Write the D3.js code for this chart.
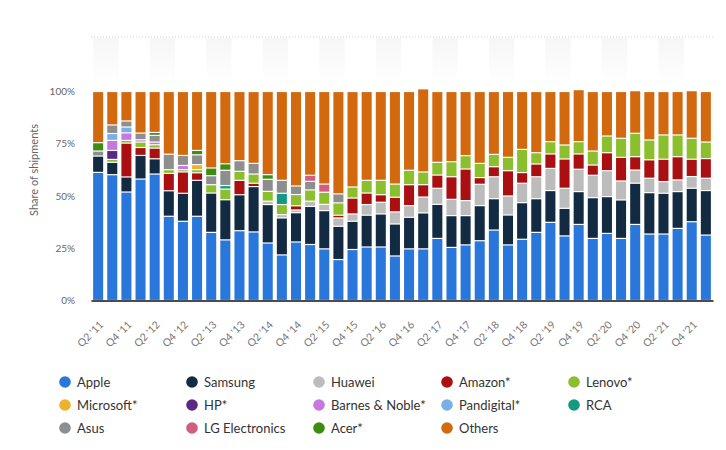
<!DOCTYPE html>
<html><head><meta charset="utf-8">
<script src="https://cdn.jsdelivr.net/npm/d3@7"></script>
<style>body{margin:0;background:#fff;} text{font-family:Lato,"Open Sans",sans-serif;}</style>
</head><body><svg id="c" width="726" height="450"></svg>
<script>
const quarters = ["Q2 '11","Q3 '11","Q4 '11","Q1 '12","Q2 '12","Q3 '12","Q4 '12","Q1 '13","Q2 '13","Q3 '13","Q4 '13",
"Q1 '14","Q2 '14","Q3 '14","Q4 '14","Q1 '15","Q2 '15","Q3 '15","Q4 '15","Q1 '16","Q2 '16","Q3 '16","Q4 '16",
"Q1 '17","Q2 '17","Q3 '17","Q4 '17","Q1 '18","Q2 '18","Q3 '18","Q4 '18","Q1 '19","Q2 '19","Q3 '19","Q4 '19",
"Q1 '20","Q2 '20","Q3 '20","Q4 '20","Q1 '21","Q2 '21","Q3 '21","Q4 '21","Q1 '22"];
const yTicks = [0, 25, 50, 75, 100];
const vendors = ["Apple","Samsung","Huawei","Amazon*","Lenovo*","Microsoft*","HP*","Barnes & Noble*","Pandigital*","RCA","Asus","LG Electronics","Acer*","Others"];
const colors = ["#2a77dc","#132a43","#bcbcbc","#aa1012","#8bbf2d","#ecb22e","#5a2a82","#c678de","#7aaee6","#139a80","#8e8e8e","#d35d7f","#3e8c12","#d2690f"];

const apple     = [61.3,60.2,51.9,58.1,60.5,40.3,37.9,40.3,32.6,29,33.4,32.8,27.5,21.8,28,26.8,24.7,19.6,24.4,25.6,25.6,21.3,24.7,24.7,29.7,25.4,26.6,28.6,33.7,26.6,29.3,32.6,37.4,30.9,36.4,29.7,32.1,29.7,36.4,31.8,31.8,34.5,37.7,31.3];
const samsung   = [7.8,5.9,7.2,11.3,7.3,12.2,13.4,17.2,18.8,19.2,17.2,21.7,18.4,17.7,14,18.2,18.3,15.9,13.5,15.2,15.8,15.3,15.1,17.2,16.3,15.2,14,16.8,15,14.3,17.5,16.1,15.2,13.2,15.7,19.5,17.6,18.4,19.7,19.8,19.5,17.6,16,21.3];
const huawei    = [0,0,0,0,0,0,0,0,0,0,0,0,1.6,1.6,1.3,2.5,3,4,3.5,5.1,5.6,5.8,5.6,7.6,7.7,7.8,7.2,10.2,10.5,9.1,9.3,10.5,10.6,9.6,10.7,10.7,12.4,9.1,6.3,6.9,5.6,5.6,5.6,5.9];
const amazon    = [0,0,16.2,3.8,5.1,8.3,10.2,3.6,0,0,6.9,1.6,0,0,2,0,0,1.3,7.6,5.5,3.6,7,10,5.9,6.3,10.8,15.1,3.2,4.8,12.1,5.1,6.1,6.9,14,7.3,4.9,8.6,11.3,6.4,8.8,10.7,11.1,8.3,9.4];
const lenovo    = [0,1.4,1.3,2.6,1.6,1.8,1.1,1.5,4,5.1,4.3,4.4,4.7,4.8,5.4,5.4,5.8,5.9,5.3,6.1,6.9,6.3,6.9,6.1,6.1,7.2,6.4,6.8,5.9,6.4,11.1,5.4,5.9,6.7,5.9,6.7,8,9.1,11.2,9.5,11.6,10.4,10,7.9];
const microsoft = [0,0,0,0,0,0,0,2.4,0,0,0,0,0,0,0,0,0,0,0,0,0,0,0,0,0,0,0,0,0,0,0,0,0,0,0,0,0,0,0,0,0,0,0,0];
const hp        = [0,4.3,0,0,0,0,0,0,0,0,0,0,0,0,0,0,0,0,0,0,0,0,0,0,0,0,0,0,0,0,0,0,0,0,0,0,0,0,0,0,0,0,0,0];
const barnes    = [0,4.8,3.6,1.1,1.3,0,2,0,0,0,0,0,0,0,0,0,0,0,0,0,0,0,0,0,0,0,0,0,0,0,0,0,0,0,0,0,0,0,0,0,0,0,0,0];
const pandigital= [0,3.3,2.8,0,0,0,0,0,0,0,0,0,0,0,0,0,0,0,0,0,0,0,0,0,0,0,0,0,0,0,0,0,0,0,0,0,0,0,0,0,0,0,0,0];
const rca       = [0,0,0,0,0,0,0,0,0,1.7,0,0,0,5.4,0,0,0,0,0,0,0,0,0,0,0,0,0,0,0,0,0,0,0,0,0,0,0,0,0,0,0,0,0,0];
const asus      = [2.4,4.1,2.9,3.2,3.2,7.4,4.8,4.7,4.3,7.3,5.1,5.1,5.8,6.2,4.1,4.1,0,4.3,0,0,0,0,0,0,0,0,0,0,0,0,0,0,0,0,0,0,0,0,0,0,0,0,0,0];
const lg        = [0,0,0,0,0,0,0,0,0,0,0,0,0,0,0,2.9,3.9,0,0,0,0,0,0,0,0,0,0,0,0,0,0,0,0,0,0,0,0,0,0,0,0,0,0,0];
const acer      = [4,0,0,0,1.4,0,0,2.1,3.7,3.1,0,0,2.2,0,0,0,0,0,0,0,0,0,0,0,0,0,0,0,0,0,0,0,0,0,0,0,0,0,0,0,0,0,0,0];
const others    = [24.5,16,14.1,19.9,19.6,30,30.6,28.2,36.6,34.6,33.1,34.4,39.8,42.5,45.2,40.1,44.3,49,45.7,42.5,42.5,44.3,37.7,39.8,33.9,33.6,30.7,34.4,30.1,31.5,27.7,29.3,24,25.6,24.9,28.5,21.3,22.4,20.4,23.2,20.8,20.8,22.8,24.2];

const series = [apple,samsung,huawei,amazon,lenovo,microsoft,hp,barnes,pandigital,rca,asus,lg,acer,others];
const rows = quarters.map((q,i)=>{const r={q}; vendors.forEach((v,k)=>r[v]=series[k][i]); return r;});

const svg = d3.select("#c");
const plotLeft = 91, plotRight = 713, plotTop = 91.5, plotBottom = 300.5;
const x = d3.scaleBand().domain(quarters).range([plotLeft,plotRight]).paddingInner(0.29).paddingOuter(0.15);
const y = d3.scaleLinear().domain([0,100]).range([plotBottom,plotTop]);
const color = d3.scaleOrdinal().domain(vendors).range(colors);

// faint top bands
const defs = svg.append("defs");
const g1 = defs.append("linearGradient").attr("id","fade").attr("x1",0).attr("y1",0).attr("x2",0).attr("y2",1);
g1.append("stop").attr("offset","0%").attr("stop-color","#f6f6f6");
g1.append("stop").attr("offset","100%").attr("stop-color","#ffffff");
svg.append("g").selectAll("rect").data(quarters.filter((d,i)=>i%4===0)).join("rect")
  .attr("x",d=>x(d)).attr("y",38).attr("width",x.step()*1.8).attr("height",48)
  .attr("fill","url(#fade)");
svg.append("line").attr("x1",plotLeft).attr("x2",plotRight).attr("y1",37).attr("y2",37)
  .attr("stroke","#cfcfcf").attr("stroke-dasharray","1,2");

// bars
const stack = d3.stack().keys(vendors)(rows);
svg.append("g").selectAll("g").data(stack).join("g").attr("fill",d=>color(d.key))
  .selectAll("rect").data(d=>d.filter(s=>s[1]-s[0]>0)).join("rect")
  .attr("x",d=>x(d.data.q)).attr("width",x.bandwidth())
  .attr("y",d=>y(d[1])+0.6).attr("height",d=>Math.max(0,y(d[0])-y(d[1])-1.2));

// y axis labels
svg.append("g").selectAll("text").data(yTicks).join("text")
  .attr("x",75).attr("y",d=>y(d)+3.5).attr("text-anchor","end")
  .attr("font-size",10).attr("fill","#666").text(d=>d+"%");
svg.append("text").attr("transform","translate(38,170) rotate(-90)").attr("text-anchor","middle")
  .attr("font-size",11).attr("fill","#666").text("Share of shipments");

// x axis
const xAxis = d3.axisBottom(x).tickValues(quarters.filter((d,i)=>i%2===0)).tickSize(0).tickSizeOuter(0);
const ax = svg.append("g").attr("transform",`translate(0,${plotBottom})`).call(xAxis);
ax.select(".domain").attr("stroke","#111").attr("stroke-width",1.5);
ax.selectAll("text").attr("y",0).attr("dy",0).attr("text-anchor","end")
  .attr("transform","translate(6,25) rotate(-45)")
  .attr("font-size",10.5).attr("fill","#777").attr("font-family","'Open Sans',Lato,sans-serif");

// legend
const legX = [65,192,319,447,574], legY = [382,405,428];
const leg = svg.append("g").selectAll("g").data(vendors).join("g")
  .attr("transform",(d,i)=>`translate(${legX[i%5]},${legY[Math.floor(i/5)]})`);
leg.append("circle").attr("r",5.8).attr("fill",d=>color(d));
leg.append("text").attr("x",12).attr("y",4.6).attr("font-size",13).attr("fill","#333").text(d=>d);
</script></body></html>
